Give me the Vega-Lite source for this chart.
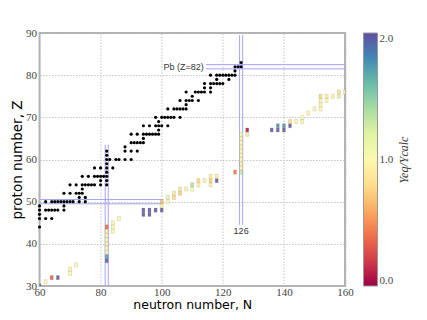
{
  "$schema": "https://vega.github.io/schema/vega-lite/v6.json",
  "width": 305.5,
  "height": 253,
  "autosize": "none",
  "padding": {"left": 39.5, "top": 33, "right": 82, "bottom": 34},
  "background": "white",
  "config": {
    "view": {"stroke": "#b3b3b3", "strokeWidth": 2},
    "axis": {
      "grid": true, "gridColor": "#b5b5b5", "gridDash": [1.5, 1.5], "gridWidth": 0.8,
      "domain": false, "ticks": false,
      "labelFont": "Liberation Serif", "labelFontSize": 11, "labelColor": "#444444",
      "labelFlush": false, "labelOverlap": false,
      "titleFont": "DejaVu Sans", "titleFontWeight": "normal", "titleFontSize": 13.5, "titleColor": "#000000"
    },
    "legend": {"padding": 0}
  },
  "datasets": {
    "dots": [
      {"N":60,"Z":44},
      {"N":60,"Z":46},{"N":62,"Z":46},{"N":64,"Z":46},
      {"N":60,"Z":47},
      {"N":60,"Z":48},{"N":62,"Z":48},{"N":63,"Z":48},{"N":64,"Z":48},{"N":65,"Z":48},{"N":66,"Z":48},{"N":68,"Z":48},
      {"N":60,"Z":49},{"N":68,"Z":49},
      {"N":62,"Z":50},{"N":64,"Z":50},{"N":65,"Z":50},{"N":66,"Z":50},{"N":67,"Z":50},{"N":68,"Z":50},{"N":69,"Z":50},{"N":70,"Z":50},{"N":71,"Z":50},{"N":73,"Z":50},{"N":75,"Z":50},
      {"N":73,"Z":51},{"N":75,"Z":51},
      {"N":68,"Z":52},{"N":70,"Z":52},{"N":72,"Z":52},{"N":73,"Z":52},{"N":74,"Z":52},
      {"N":74,"Z":53},
      {"N":70,"Z":54},{"N":72,"Z":54},{"N":74,"Z":54},{"N":75,"Z":54},{"N":76,"Z":54},{"N":77,"Z":54},{"N":78,"Z":54},{"N":80,"Z":54},{"N":82,"Z":54},
      {"N":80,"Z":55},{"N":82,"Z":55},
      {"N":74,"Z":56},{"N":76,"Z":56},{"N":78,"Z":56},{"N":79,"Z":56},{"N":80,"Z":56},{"N":81,"Z":56},{"N":82,"Z":56},
      {"N":82,"Z":57},
      {"N":78,"Z":58},{"N":80,"Z":58},{"N":82,"Z":58},{"N":84,"Z":58},
      {"N":82,"Z":59},
      {"N":82,"Z":60},{"N":83,"Z":60},{"N":85,"Z":60},{"N":86,"Z":60},{"N":88,"Z":60},{"N":90,"Z":60},
      {"N":82,"Z":61},
      {"N":82,"Z":62},{"N":88,"Z":62},{"N":90,"Z":62},{"N":92,"Z":62},
      {"N":88,"Z":63},
      {"N":90,"Z":64},{"N":91,"Z":64},{"N":92,"Z":64},{"N":93,"Z":64},{"N":94,"Z":64},
      {"N":94,"Z":65},
      {"N":90,"Z":66},{"N":92,"Z":66},{"N":94,"Z":66},{"N":95,"Z":66},{"N":96,"Z":66},{"N":97,"Z":66},{"N":98,"Z":66},{"N":99,"Z":66},
      {"N":99,"Z":67},
      {"N":94,"Z":68},{"N":96,"Z":68},{"N":98,"Z":68},{"N":99,"Z":68},{"N":100,"Z":68},{"N":102,"Z":68},
      {"N":99,"Z":69},
      {"N":98,"Z":70},{"N":100,"Z":70},{"N":101,"Z":70},{"N":102,"Z":70},{"N":103,"Z":70},{"N":104,"Z":70},{"N":106,"Z":70},
      {"N":102,"Z":72},{"N":104,"Z":72},{"N":105,"Z":72},{"N":106,"Z":72},{"N":107,"Z":72},{"N":108,"Z":72},
      {"N":108,"Z":73},
      {"N":106,"Z":74},{"N":108,"Z":74},{"N":109,"Z":74},{"N":110,"Z":74},{"N":112,"Z":74},
      {"N":110,"Z":75},
      {"N":108,"Z":76},{"N":111,"Z":76},{"N":112,"Z":76},{"N":113,"Z":76},{"N":114,"Z":76},{"N":116,"Z":76},
      {"N":114,"Z":77},{"N":116,"Z":77},
      {"N":114,"Z":78},{"N":116,"Z":78},{"N":117,"Z":78},{"N":118,"Z":78},{"N":119,"Z":78},{"N":120,"Z":78},
      {"N":118,"Z":79},{"N":122,"Z":79},
      {"N":116,"Z":80},{"N":118,"Z":80},{"N":119,"Z":80},{"N":120,"Z":80},{"N":121,"Z":80},{"N":122,"Z":80},{"N":123,"Z":80},{"N":124,"Z":80},
      {"N":124,"Z":81},
      {"N":124,"Z":82},{"N":125,"Z":82},{"N":126,"Z":82},
      {"N":126,"Z":83}
    ],
    "cells": [
      {"N":60,"Z":30,"r":2.0},
      {"N":62,"Z":31,"r":1.0},
      {"N":64,"Z":32,"r":0.3},
      {"N":66,"Z":32,"r":2.0},
      {"N":70,"Z":33,"r":1.0},{"N":70,"Z":34,"r":0.95},
      {"N":72,"Z":35,"r":1.0},
      {"N":82,"Z":36,"r":2.0},{"N":82,"Z":37,"r":1.75},{"N":82,"Z":38,"r":1.0},{"N":82,"Z":39,"r":1.0},{"N":82,"Z":40,"r":0.95},{"N":82,"Z":41,"r":1.0},{"N":82,"Z":42,"r":0.95},{"N":82,"Z":43,"r":0.9},{"N":82,"Z":44,"r":0.35},
      {"N":84,"Z":43,"r":1.0},{"N":84,"Z":44,"r":1.0},{"N":84,"Z":45,"r":0.95},
      {"N":86,"Z":46,"r":1.0},
      {"N":94,"Z":47,"r":2.0},{"N":94,"Z":48,"r":2.0},{"N":96,"Z":47,"r":2.0},{"N":96,"Z":48,"r":2.0},
      {"N":98,"Z":48,"r":2.0},
      {"N":100,"Z":48,"r":2.0},{"N":100,"Z":49,"r":0.95},{"N":100,"Z":50,"r":0.65},
      {"N":102,"Z":50,"r":1.0},{"N":102,"Z":51,"r":1.2},
      {"N":104,"Z":51,"r":0.75},{"N":104,"Z":52,"r":0.85},
      {"N":106,"Z":52,"r":0.7},{"N":106,"Z":53,"r":0.85},
      {"N":108,"Z":53,"r":0.95},
      {"N":110,"Z":53,"r":1.0},{"N":110,"Z":54,"r":1.4},
      {"N":112,"Z":54,"r":0.95},{"N":112,"Z":55,"r":0.75},
      {"N":114,"Z":55,"r":0.95},
      {"N":116,"Z":54,"r":0.95},{"N":116,"Z":55,"r":0.7},{"N":116,"Z":56,"r":0.9},
      {"N":118,"Z":55,"r":2.0},{"N":118,"Z":56,"r":0.9},
      {"N":124,"Z":57,"r":0.4},
      {"N":126,"Z":57,"r":1.3},{"N":126,"Z":58,"r":1.0},{"N":126,"Z":59,"r":0.95},{"N":126,"Z":60,"r":1.0},{"N":126,"Z":61,"r":0.95},{"N":126,"Z":62,"r":1.0},{"N":126,"Z":63,"r":0.95},{"N":126,"Z":64,"r":1.0},{"N":126,"Z":65,"r":0.95},{"N":126,"Z":66,"r":1.0},
      {"N":128,"Z":66,"r":1.2},{"N":128,"Z":67,"r":0.05},
      {"N":136,"Z":67,"r":2.0},
      {"N":138,"Z":67,"r":2.0},{"N":138,"Z":68,"r":1.8},
      {"N":140,"Z":67,"r":2.0},{"N":140,"Z":68,"r":1.8},
      {"N":142,"Z":68,"r":2.0},{"N":142,"Z":69,"r":0.75},
      {"N":144,"Z":69,"r":0.95},
      {"N":146,"Z":69,"r":0.95},{"N":146,"Z":70,"r":1.0},
      {"N":148,"Z":71,"r":0.95},
      {"N":150,"Z":72,"r":1.0},
      {"N":152,"Z":72,"r":1.0},{"N":152,"Z":73,"r":0.95},{"N":152,"Z":74,"r":0.95},{"N":152,"Z":75,"r":0.75},
      {"N":154,"Z":74,"r":0.95},{"N":154,"Z":75,"r":0.9},
      {"N":156,"Z":75,"r":0.95},
      {"N":158,"Z":75,"r":1.2},{"N":158,"Z":76,"r":0.8},
      {"N":160,"Z":76,"r":0.95}
    ],
    "vlines": [
      {"N":81.5,"Z":30,"Z2":63.5},{"N":82.5,"Z":30,"Z2":63.5},
      {"N":125.5,"Z":44.5,"Z2":89.5},{"N":126.5,"Z":44.5,"Z2":89.5}
    ],
    "hlines": [
      {"N":60,"N2":100.5,"Z":49.5},{"N":60,"N2":100.5,"Z":50.5},
      {"N":114.5,"N2":160,"Z":81.5},{"N":114.5,"N2":160,"Z":82.5}
    ],
    "pb": [{"N":113.8,"Z":82,"label":"Pb (Z=82)"}],
    "n126": [{"N":126,"Z":43,"label":"126"}]
  },
  "encoding": {
    "x": {
      "field": "N", "type": "quantitative",
      "scale": {"domain": [60, 160], "nice": false, "zero": false},
      "axis": {"values": [60, 80, 100, 120, 140, 160], "labelPadding": 0, "titlePadding": 1, "title": "neutron number, N", "titleFontSize": 12.5}
    },
    "y": {
      "field": "Z", "type": "quantitative",
      "scale": {"domain": [30, 90], "nice": false, "zero": false},
      "axis": {"values": [30, 40, 50, 60, 70, 80, 90], "labelPadding": 3, "titlePadding": 1, "title": "proton number, Z"}
    }
  },
  "layer": [
    {
      "data": {"name": "vlines"},
      "mark": {"type": "rule", "stroke": "#a3a3f5", "strokeWidth": 1},
      "encoding": {"y2": {"field": "Z2"}}
    },
    {
      "data": {"name": "hlines"},
      "mark": {"type": "rule", "stroke": "#a3a3f5", "strokeWidth": 1},
      "encoding": {"x2": {"field": "N2"}}
    },
    {
      "data": {"name": "cells"},
      "mark": {"type": "rect", "width": 3, "height": 4.2, "fillOpacity": 0.85, "stroke": "#8c8a50", "strokeOpacity": 0.35, "strokeWidth": 0.6, "clip": true},
      "encoding": {
        "color": {
          "field": "r", "type": "quantitative",
          "scale": {"scheme": "spectral", "domain": [0, 2]},
          "legend": {
            "type": "gradient",
            "title": "Yeq/Ycalc",
            "orient": "right", "offset": 18, "direction": "vertical",
            "gradientLength": 253, "gradientThickness": 14,
            "gradientStrokeColor": "#999999", "gradientStrokeWidth": 1,
            "values": [0, 1, 2], "format": ".1f",
            "labelFont": "Liberation Serif", "labelFontSize": 11, "labelColor": "#444444", "labelOffset": 2, "labelOverlap": false,
            "titleOrient": "right", "titleAnchor": "middle",
            "titleFont": "Liberation Serif", "titleFontStyle": "italic", "titleFontWeight": "normal", "titleFontSize": 12, "titleColor": "#333333", "titlePadding": 10,
            "encode": {"title": {"update": {"angle": {"value": -90}, "align": {"value": "center"}, "baseline": {"value": "middle"}}}}
          }
        }
      }
    },
    {
      "data": {"name": "dots"},
      "mark": {"type": "circle", "size": 10, "color": "#000000", "opacity": 1}
    },
    {
      "data": {"name": "pb"},
      "mark": {"type": "text", "align": "right", "baseline": "middle", "font": "Liberation Sans", "fontSize": 9, "color": "#333333"},
      "encoding": {"text": {"field": "label"}}
    },
    {
      "data": {"name": "n126"},
      "mark": {"type": "text", "align": "center", "baseline": "middle", "font": "Liberation Sans", "fontSize": 9, "color": "#333333"},
      "encoding": {"text": {"field": "label"}}
    }
  ]
}
